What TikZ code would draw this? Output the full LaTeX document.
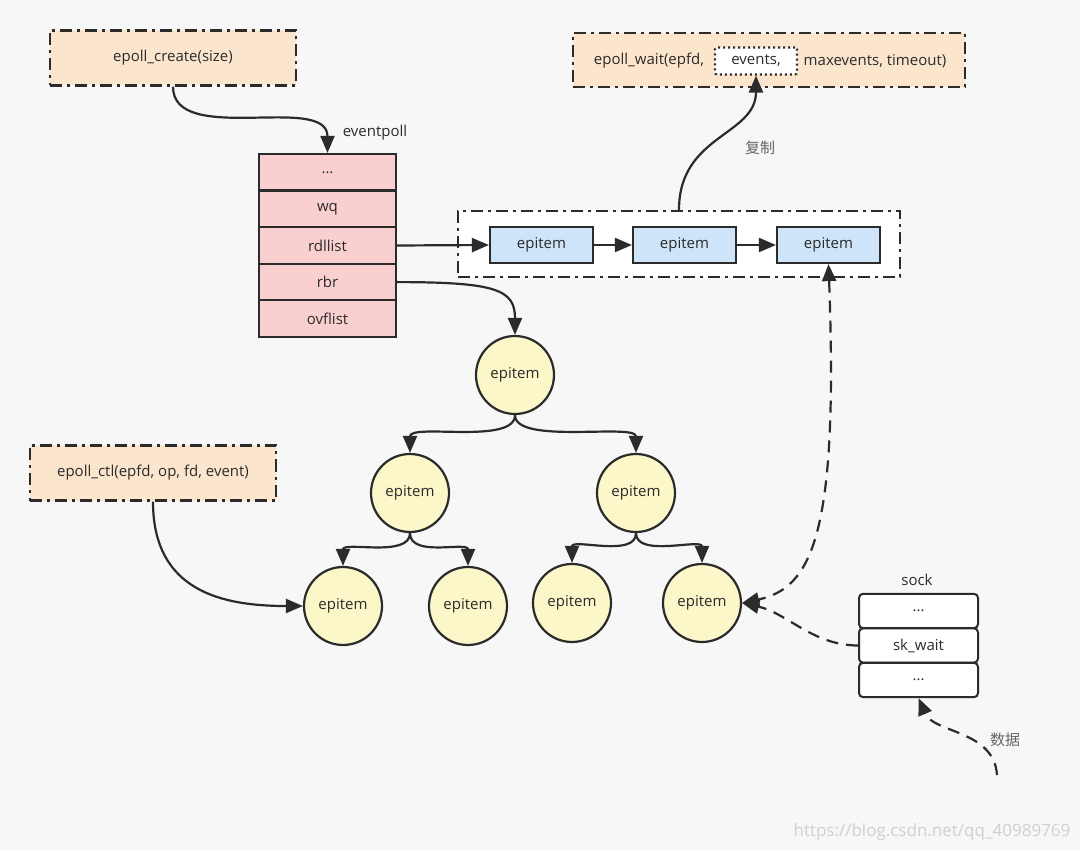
\documentclass[tikz,border=0pt]{standalone}
\usepackage{fontspec}
\setmainfont{Open Sans}
\newfontfamily\cjk{Noto Sans CJK SC}
\usetikzlibrary{arrows.meta}
\definecolor{bgcol}{HTML}{F7F7F7}
\definecolor{linecol}{HTML}{2B2B2B}
\definecolor{peach}{HTML}{FCE5CD}
\definecolor{pinkc}{HTML}{F9CFCF}
\definecolor{bluec}{HTML}{CDE4F9}
\definecolor{yellowc}{HTML}{FBF7C9}
\definecolor{notecol}{HTML}{666666}
\definecolor{wmcol}{HTML}{D0D0D0}
\begin{document}
\begin{tikzpicture}[x=1pt, y=-1pt, color=linecol,
    font=\fontsize{15}{18}\selectfont,
    call/.style={draw, fill=peach, line width=2.4pt, dash pattern=on 12pt off 5pt on 3pt off 5pt, minimum height=55pt},
    field/.style={draw, fill=pinkc, minimum width=137pt, minimum height=36.6pt, line width=2.2pt},
    litem/.style={draw, fill=bluec, minimum width=103pt, minimum height=36pt, line width=2.2pt},
    titem/.style={circle, draw, fill=yellowc, minimum size=78pt, inner sep=0pt, line width=2.2pt},
    sfield/.style={draw, fill=white, rounded corners=4pt, minimum width=119pt, minimum height=34.3pt, line width=2pt},
    arr/.style={-{Triangle[length=17pt,width=14pt]}, line width=2.2pt},
    darr/.style={arr, dash pattern=on 12pt off 8pt},
    note/.style={text=notecol, font=\cjk\fontsize{15}{18}\selectfont}]

    \fill[bgcol] (0,0) rectangle (1080,850);

    % calls
    \node[call, minimum width=246pt] (create) at (173,58) {epoll\_create(size)};
    \node[call, minimum width=392pt, minimum height=54pt] (wait) at (769,60) {};
    \node (waitA) at (649,61) {epoll\_wait(epfd,};
    \node[draw, fill=white, line width=2.2pt, dash pattern=on 2pt off 3pt, rounded corners=2pt,
          minimum width=82pt, minimum height=27pt] (events) at (756,61) {events,};
    \node (waitB) at (875,61) {maxevents, timeout)};
    \node[call, minimum width=246pt] (ctl) at (153,473) {epoll\_ctl(epfd, op, fd, event)};

    % eventpoll
    \node (eplabel) at (375,133) {eventpoll};
    \node[field] (ep1) at (327.5,172.3) {...};
    \node[field] (ep2) at (327.5,208.9) {wq};
    \node[field] (ep3) at (327.5,245.5) {rdllist};
    \node[field] (ep4) at (327.5,282.1) {rbr};
    \node[field] (ep5) at (327.5,318.7) {ovflist};

    % ready list
    \node[call, fill=white, minimum width=442pt, minimum height=66pt] (rdl) at (679,244) {};
    \node[litem] (l1) at (541.5,245) {epitem};
    \node[litem] (l2) at (684.5,245) {epitem};
    \node[litem] (l3) at (828.5,245) {epitem};

    % red-black tree
    \node[titem] (root) at (515,375) {epitem};
    \node[titem] (c1) at (410,493) {epitem};
    \node[titem] (c2) at (636,493) {epitem};
    \node[titem] (g1) at (343,606) {epitem};
    \node[titem] (g2) at (468,606) {epitem};
    \node[titem] (g3) at (572,603) {epitem};
    \node[titem] (g4) at (702,603) {epitem};

    % sock
    \node (socklabel) at (917,580) {sock};
    \node[sfield] (s1) at (918.5,611) {...};
    \node[sfield] (s2) at (918.5,645.5) {sk\_wait};
    \node[sfield] (s3) at (918.5,680) {...};

    \draw[arr] (create.south) .. controls +(0,60) and +(0,-60) .. (ep1.north);
    \draw[arr] (ep3.east) -- (l1.west);
    \draw[arr] (l1.east) -- (l2.west);
    \draw[arr] (l2.east) -- (l3.west);
    \draw[arr] (rdl.north) .. controls +(0,-75) and +(0,60) .. (events.south);
    \node[note] (copy) at (760,148) {复制};
    \draw[arr] (ep4.east) .. controls +(100,0) and +(0,-45) .. (root.north);
    \draw[arr] (root.south) .. controls +(0,30) and +(0,-30) .. (c1.north);
    \draw[arr] (root.south) .. controls +(0,30) and +(0,-30) .. (c2.north);
    \draw[arr] (c1.south) .. controls +(0,25) and +(0,-25) .. (g1.north);
    \draw[arr] (c1.south) .. controls +(0,25) and +(0,-25) .. (g2.north);
    \draw[arr] (c2.south) .. controls +(0,25) and +(0,-25) .. (g3.north);
    \draw[arr] (c2.south) .. controls +(0,25) and +(0,-25) .. (g4.north);
    \draw[arr] (ctl.south) .. controls +(0,90) and +(-80,0) .. (g1.west);
    \draw[darr, {Triangle[length=17pt,width=14pt]}-{Triangle[length=17pt,width=14pt]}]
        (l3.south) .. controls +(10,270) and +(70,-15) .. (g4.east);
    \draw[darr] (s2.west) .. controls +(-45,0) and +(45,10) .. (g4.east);
    \coordinate (src) at (997,775);
    \draw[darr] (src) .. controls +(-3,-45) and +(15,35) .. (s3.south);
    \node[note] (data) at (1005,740) {数据};

    \node[text=wmcol, font=\fontsize{17}{20}\selectfont] (wm) at (932,832) {https://blog.csdn.net/qq\_40989769};
\end{tikzpicture}
\end{document}
